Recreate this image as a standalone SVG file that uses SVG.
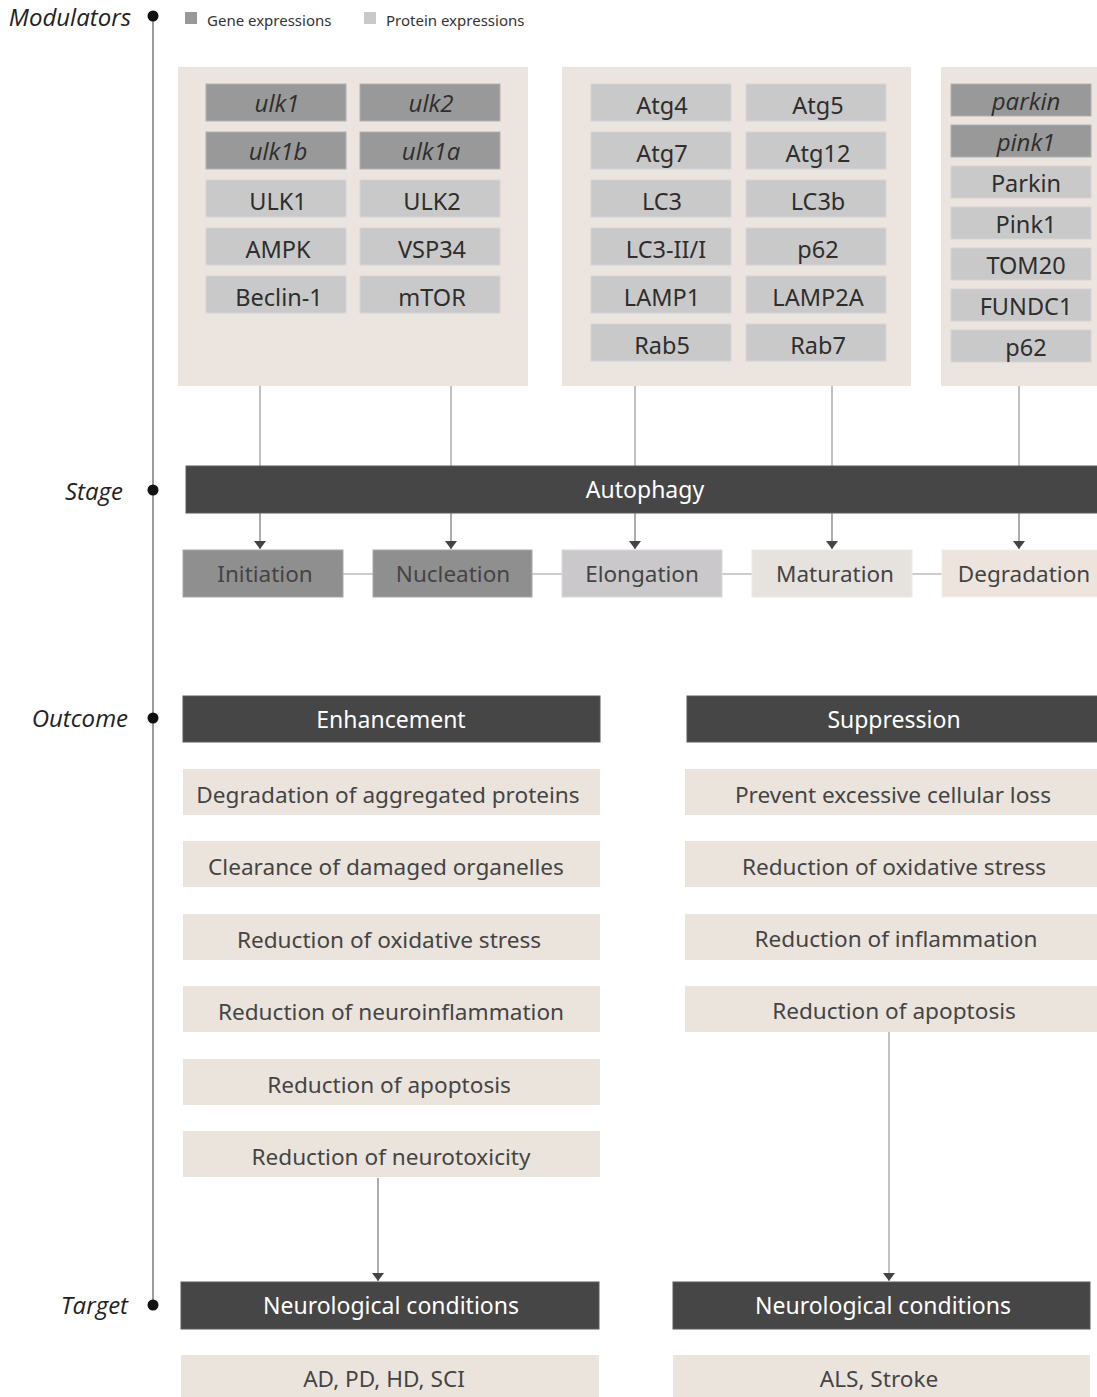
<svg xmlns="http://www.w3.org/2000/svg" width="1097" height="1397" viewBox="0 0 1097 1397">
<defs>
<style>
text{font-family:"Noto Sans","Open Sans",sans-serif;}
.axis{font-family:"Open Sans","Noto Sans",sans-serif;font-style:italic;font-size:24px;fill:#222;text-anchor:end;}
.leg{font-size:15px;fill:#333;}
.panel{fill:#ece5df;}
.gene{fill:#999999;stroke:#b0b0b0;stroke-width:1;}
.prot{fill:#cac9ca;stroke:#d6d4d4;stroke-width:1;}
.gt{font-family:"Open Sans","Noto Sans",sans-serif;font-style:italic;font-size:24px;fill:#2e2e2e;text-anchor:middle;}
.pt{font-size:23.5px;fill:#2e2e2e;text-anchor:middle;}
.dark{fill:#464646;stroke:#5a5a5a;stroke-width:1;}
.wt{font-size:23px;fill:#ffffff;text-anchor:middle;}
.item{fill:#ebe4dd;}
.it{font-size:22.6px;fill:#444;text-anchor:middle;}
.st{font-size:22.5px;fill:#444;text-anchor:middle;}
.conn{stroke:#999;stroke-width:1.2;fill:none;}
.conn2{stroke:#777;stroke-width:1.2;fill:none;}
.link{stroke:#aaa;stroke-width:1.2;fill:none;}
.tl{stroke:#555;stroke-width:1.2;}
.dot{fill:#111;}
</style>
<marker id="arr" markerUnits="userSpaceOnUse" markerWidth="8" markerHeight="14" refX="8" refY="7" orient="auto" viewBox="0 0 8 14">
<path d="M0,1 L8,7 L0,13 Z" fill="#444"/>
</marker>
</defs>
<rect width="1097" height="1397" fill="#ffffff"/>

<g id="timeline">
<line class="tl" x1="153" y1="16" x2="153" y2="1305"/>
<circle class="dot" cx="153" cy="16" r="5.5"/>
<circle class="dot" cx="153" cy="490" r="5.5"/>
<circle class="dot" cx="153" cy="718" r="5.5"/>
<circle class="dot" cx="153" cy="1305" r="5.5"/>
<text class="axis" x="131" y="26">Modulators</text>
<text class="axis" x="123" y="500">Stage</text>
<text class="axis" x="128" y="727">Outcome</text>
<text class="axis" x="128" y="1314">Target</text>
</g>

<g id="legend">
<rect x="185" y="12" width="12" height="12" fill="#999999"/>
<text class="leg" x="207" y="26">Gene expressions</text>
<rect x="364" y="12" width="12" height="12" fill="#cac9ca"/>
<text class="leg" x="386" y="26">Protein expressions</text>
</g>

<g id="connectors">
<line class="conn" x1="260" y1="386" x2="260" y2="466"/>
<line class="conn" x1="451" y1="386" x2="451" y2="466"/>
<line class="conn" x1="635" y1="386" x2="635" y2="466"/>
<line class="conn" x1="832" y1="386" x2="832" y2="466"/>
<line class="conn" x1="1019" y1="386" x2="1019" y2="466"/>
<line class="conn2" x1="260" y1="513" x2="260" y2="549" marker-end="url(#arr)"/>
<line class="conn2" x1="451" y1="513" x2="451" y2="549" marker-end="url(#arr)"/>
<line class="conn2" x1="635" y1="513" x2="635" y2="549" marker-end="url(#arr)"/>
<line class="conn2" x1="832" y1="513" x2="832" y2="549" marker-end="url(#arr)"/>
<line class="conn2" x1="1019" y1="513" x2="1019" y2="549" marker-end="url(#arr)"/>
<line class="link" x1="343" y1="574" x2="373" y2="574"/>
<line class="link" x1="532" y1="574" x2="562" y2="574"/>
<line class="link" x1="722" y1="574" x2="752" y2="574"/>
<line class="link" x1="912" y1="574" x2="942" y2="574"/>
<line class="conn2" x1="378" y1="1178" x2="378" y2="1281" marker-end="url(#arr)"/>
<line class="conn" x1="889" y1="1032" x2="889" y2="1281" marker-end="url(#arr)"/>
</g>

<g id="panel-initiation">
<rect class="panel" x="178" y="67" width="350" height="319"/>
<rect class="gene" x="206" y="84" width="140" height="37"/><text class="gt" x="277" y="112">ulk1</text>
<rect class="gene" x="360" y="84" width="140" height="37"/><text class="gt" x="431" y="112">ulk2</text>
<rect class="gene" x="206" y="132" width="140" height="37"/><text class="gt" x="278" y="160">ulk1b</text>
<rect class="gene" x="360" y="132" width="140" height="37"/><text class="gt" x="431" y="160">ulk1a</text>
<rect class="prot" x="206" y="180" width="140" height="37"/><text class="pt" x="278" y="210">ULK1</text>
<rect class="prot" x="360" y="180" width="140" height="37"/><text class="pt" x="432" y="210">ULK2</text>
<rect class="prot" x="206" y="228" width="140" height="37"/><text class="pt" x="278" y="258">AMPK</text>
<rect class="prot" x="360" y="228" width="140" height="37"/><text class="pt" x="432" y="258">VSP34</text>
<rect class="prot" x="206" y="276" width="140" height="37"/><text class="pt" x="279" y="306">Beclin-1</text>
<rect class="prot" x="360" y="276" width="140" height="37"/><text class="pt" x="432" y="306">mTOR</text>
</g>

<g id="panel-elongation">
<rect class="panel" x="562" y="67" width="349" height="319"/>
<rect class="prot" x="591" y="84" width="140" height="37"/><text class="pt" x="662" y="114">Atg4</text>
<rect class="prot" x="746" y="84" width="140" height="37"/><text class="pt" x="818" y="114">Atg5</text>
<rect class="prot" x="591" y="132" width="140" height="37"/><text class="pt" x="662" y="162">Atg7</text>
<rect class="prot" x="746" y="132" width="140" height="37"/><text class="pt" x="818" y="162">Atg12</text>
<rect class="prot" x="591" y="180" width="140" height="37"/><text class="pt" x="662" y="210">LC3</text>
<rect class="prot" x="746" y="180" width="140" height="37"/><text class="pt" x="818" y="210">LC3b</text>
<rect class="prot" x="591" y="228" width="140" height="37"/><text class="pt" x="666" y="258">LC3-II/I</text>
<rect class="prot" x="746" y="228" width="140" height="37"/><text class="pt" x="818" y="258">p62</text>
<rect class="prot" x="591" y="276" width="140" height="37"/><text class="pt" x="662" y="306">LAMP1</text>
<rect class="prot" x="746" y="276" width="140" height="37"/><text class="pt" x="818" y="306">LAMP2A</text>
<rect class="prot" x="591" y="324" width="140" height="37"/><text class="pt" x="662" y="354">Rab5</text>
<rect class="prot" x="746" y="324" width="140" height="37"/><text class="pt" x="818" y="354">Rab7</text>
</g>

<g id="panel-degradation">
<rect class="panel" x="941" y="67" width="160" height="319"/>
<rect class="gene" x="951" y="84" width="140" height="32"/><text class="gt" x="1026" y="110">parkin</text>
<rect class="gene" x="951" y="125" width="140" height="32"/><text class="gt" x="1026" y="151">pink1</text>
<rect class="prot" x="951" y="166" width="140" height="32"/><text class="pt" x="1026" y="192">Parkin</text>
<rect class="prot" x="951" y="207" width="140" height="32"/><text class="pt" x="1026" y="233">Pink1</text>
<rect class="prot" x="951" y="248" width="140" height="32"/><text class="pt" x="1026" y="274">TOM20</text>
<rect class="prot" x="951" y="289" width="140" height="32"/><text class="pt" x="1026" y="315">FUNDC1</text>
<rect class="prot" x="951" y="330" width="140" height="32"/><text class="pt" x="1026" y="356">p62</text>
</g>

<g id="autophagy">
<rect class="dark" x="186" y="466" width="918" height="47"/>
<text class="wt" x="645" y="498">Autophagy</text>
</g>

<g id="stages">
<g id="stage-initiation"><rect x="183" y="550" width="160" height="47" fill="#8f8f8f" stroke="#a8a8a8"/><text class="st" x="265" y="582">Initiation</text></g>
<g id="stage-nucleation"><rect x="373" y="550" width="159" height="47" fill="#8f8f8f" stroke="#a8a8a8"/><text class="st" x="453" y="582">Nucleation</text></g>
<g id="stage-elongation"><rect x="562" y="550" width="160" height="47" fill="#cac8ca" stroke="#dad8da"/><text class="st" x="642" y="582">Elongation</text></g>
<g id="stage-maturation"><rect x="752" y="550" width="160" height="47" fill="#e6e2de" stroke="#eeeae6"/><text class="st" x="835" y="582">Maturation</text></g>
<g id="stage-degradation"><rect x="942" y="550" width="160" height="47" fill="#ede5dd" stroke="#f3ede7"/><text class="st" x="1024" y="582">Degradation</text></g>
</g>

<g id="enhancement">
<rect class="dark" x="183" y="696" width="417" height="46"/>
<text class="wt" x="391" y="728">Enhancement</text>
<rect class="item" x="183" y="769" width="417" height="46"/><text class="it" x="388" y="803">Degradation of aggregated proteins</text>
<rect class="item" x="183" y="841" width="417" height="46"/><text class="it" x="386" y="875">Clearance of damaged organelles</text>
<rect class="item" x="183" y="914" width="417" height="46"/><text class="it" x="389" y="948">Reduction of oxidative stress</text>
<rect class="item" x="183" y="986" width="417" height="46"/><text class="it" x="391" y="1020">Reduction of neuroinflammation</text>
<rect class="item" x="183" y="1059" width="417" height="46"/><text class="it" x="389" y="1093">Reduction of apoptosis</text>
<rect class="item" x="183" y="1131" width="417" height="46"/><text class="it" x="391" y="1165">Reduction of neurotoxicity</text>
</g>

<g id="suppression">
<rect class="dark" x="687" y="696" width="414" height="46"/>
<text class="wt" x="894" y="728">Suppression</text>
<rect class="item" x="685" y="769" width="416" height="46"/><text class="it" x="893" y="803">Prevent excessive cellular loss</text>
<rect class="item" x="685" y="841" width="416" height="46"/><text class="it" x="894" y="875">Reduction of oxidative stress</text>
<rect class="item" x="685" y="914" width="416" height="46"/><text class="it" x="896" y="947">Reduction of inflammation</text>
<rect class="item" x="685" y="986" width="416" height="46"/><text class="it" x="894" y="1019">Reduction of apoptosis</text>
</g>

<g id="target-left">
<rect class="dark" x="181" y="1282" width="418" height="47"/>
<text class="wt" x="391" y="1314">Neurological conditions</text>
<rect class="item" x="181" y="1355" width="418" height="42"/>
<text class="it" x="384" y="1387">AD, PD, HD, SCI</text>
</g>

<g id="target-right">
<rect class="dark" x="673" y="1282" width="417" height="47"/>
<text class="wt" x="883" y="1314">Neurological conditions</text>
<rect class="item" x="673" y="1355" width="417" height="42"/>
<text class="it" x="879" y="1387">ALS, Stroke</text>
</g>
</svg>
